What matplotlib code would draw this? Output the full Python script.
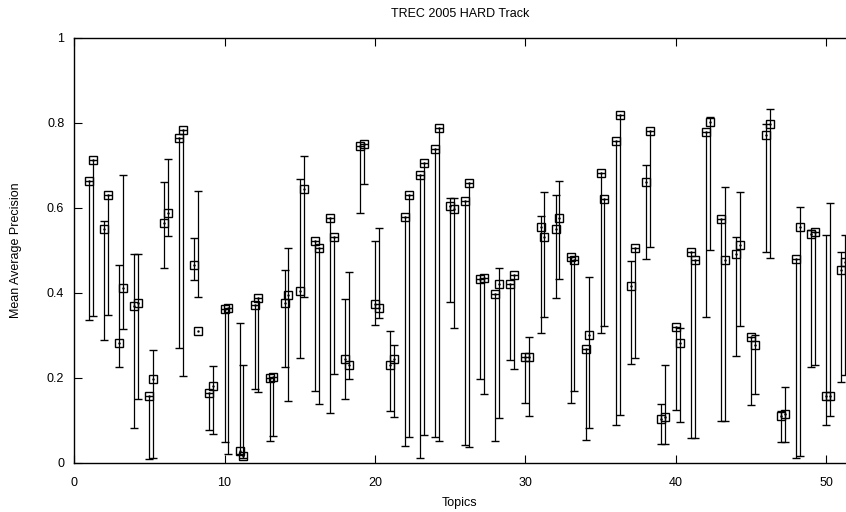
import matplotlib.pyplot as plt
import numpy as np

plt.rcParams['font.family'] = ['Liberation Sans', 'DejaVu Sans']

topics = np.arange(1, 52)

# first run: value, low end and high end of the bar
left_val = [0.663, 0.551, 0.282, 0.368, 0.158, 0.564, 0.763, 0.465, 0.165, 0.362,
            0.027, 0.372, 0.199, 0.375, 0.405, 0.522, 0.576, 0.244, 0.744, 0.373,
            0.229, 0.579, 0.677, 0.738, 0.603, 0.616, 0.433, 0.396, 0.421, 0.249,
            0.555, 0.549, 0.484, 0.268, 0.682, 0.758, 0.416, 0.660, 0.102, 0.320,
            0.495, 0.778, 0.573, 0.491, 0.296, 0.770, 0.109, 0.479, 0.538, 0.158, 0.453]
left_low = [0.336, 0.289, 0.224, 0.082, 0.008, 0.458, 0.270, 0.430, 0.077, 0.049,
            0.020, 0.173, 0.052, 0.225, 0.247, 0.169, 0.118, 0.149, 0.587, 0.323,
            0.122, 0.039, 0.012, 0.060, 0.379, 0.042, 0.198, 0.050, 0.242, 0.140,
            0.304, 0.388, 0.140, 0.053, 0.306, 0.089, 0.233, 0.480, 0.045, 0.124,
            0.057, 0.343, 0.099, 0.251, 0.136, 0.495, 0.049, 0.010, 0.226, 0.089, 0.191]
left_high = [0.663, 0.569, 0.466, 0.490, 0.158, 0.660, 0.763, 0.529, 0.165, 0.362,
             0.329, 0.372, 0.199, 0.454, 0.667, 0.522, 0.576, 0.384, 0.744, 0.522,
             0.310, 0.579, 0.677, 0.738, 0.622, 0.616, 0.433, 0.396, 0.421, 0.249,
             0.580, 0.631, 0.484, 0.268, 0.682, 0.758, 0.475, 0.700, 0.139, 0.320,
             0.495, 0.778, 0.573, 0.532, 0.296, 0.796, 0.122, 0.479, 0.547, 0.535, 0.495]

# second run
right_val = [0.713, 0.629, 0.412, 0.376, 0.197, 0.588, 0.783, 0.310, 0.181, 0.363,
             0.016, 0.387, 0.202, 0.394, 0.644, 0.504, 0.530, 0.231, 0.751, 0.365,
             0.243, 0.631, 0.705, 0.787, 0.598, 0.657, 0.435, 0.421, 0.441, 0.249,
             0.531, 0.576, 0.476, 0.300, 0.620, 0.818, 0.504, 0.780, 0.108, 0.281,
             0.477, 0.801, 0.478, 0.512, 0.278, 0.796, 0.115, 0.555, 0.543, 0.158, 0.473]
right_low = [0.344, 0.347, 0.315, 0.151, 0.010, 0.534, 0.205, 0.390, 0.067, 0.020,
             0.012, 0.167, 0.063, 0.144, 0.391, 0.137, 0.209, 0.196, 0.656, 0.340,
             0.108, 0.061, 0.064, 0.050, 0.318, 0.036, 0.162, 0.104, 0.221, 0.111,
             0.343, 0.432, 0.169, 0.081, 0.322, 0.113, 0.247, 0.507, 0.045, 0.096,
             0.057, 0.500, 0.099, 0.322, 0.161, 0.481, 0.049, 0.016, 0.229, 0.111, 0.206]
right_high = [0.713, 0.629, 0.678, 0.490, 0.265, 0.714, 0.783, 0.640, 0.227, 0.363,
              0.231, 0.387, 0.202, 0.506, 0.722, 0.504, 0.530, 0.449, 0.751, 0.553,
              0.277, 0.631, 0.705, 0.787, 0.622, 0.657, 0.435, 0.459, 0.441, 0.295,
              0.638, 0.663, 0.476, 0.438, 0.620, 0.818, 0.504, 0.780, 0.231, 0.316,
              0.477, 0.813, 0.649, 0.637, 0.300, 0.832, 0.177, 0.601, 0.543, 0.611, 0.535]

OFFSET = 0.25


def draw_run(ax, x, val, low, high):
    ax.vlines(x, low, high, color='black', lw=0.9, zorder=2)
    ax.plot(x, low, ls='none', marker='_', ms=6, mew=1.0, color='black', zorder=2)
    ax.plot(x, high, ls='none', marker='_', ms=6, mew=1.0, color='black', zorder=2)
    ax.plot(x, val, ls='none', marker='s', ms=6, mfc='none', mec='black', mew=1.0, zorder=3)
    ax.plot(x, val, ls='none', marker='.', ms=1.5, color='black', zorder=3)


fig = plt.figure(figsize=(8.46, 5.12), dpi=100)
ax = fig.add_axes([0.0875, 0.0963, 0.9125, 0.8301])

draw_run(ax, topics, left_val, left_low, left_high)
draw_run(ax, topics + OFFSET, right_val, right_low, right_high)

ax.set_xlim(0, 51.3)
ax.set_ylim(0, 1)
ax.set_xticks([0, 10, 20, 30, 40, 50])
ax.set_yticks([0, 0.2, 0.4, 0.6, 0.8, 1.0])
ax.set_yticklabels(['0', '0.2', '0.4', '0.6', '0.8', '1'])
ax.tick_params(direction='in', length=6, width=0.8, labelsize=9,
               top=True, right=False)
ax.tick_params(axis='x', pad=10)
ax.tick_params(axis='y', pad=7)
ax.spines['right'].set_visible(False)
for s in ['left', 'bottom', 'top']:
    ax.spines[s].set_linewidth(1.0)

ax.set_xlabel("Topics", fontsize=9, labelpad=6)
ax.set_ylabel("Mean Average Precision", fontsize=9, labelpad=18)
ax.set_title("TREC 2005 HARD Track", fontsize=9, pad=15)

fig.savefig("out.png", dpi=100)
